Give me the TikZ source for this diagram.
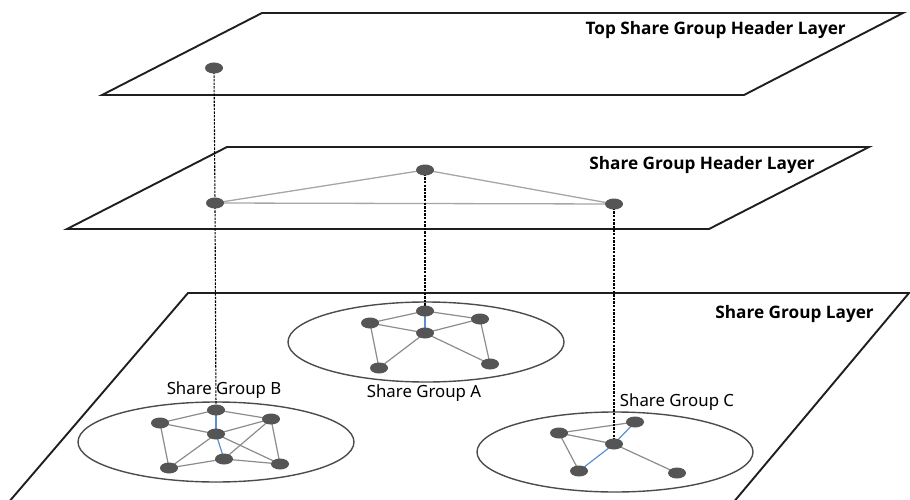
\documentclass[tikz,border=0pt]{standalone}
\usepackage{fontspec}
\setsansfont{Noto Sans}
\newfontfamily\titlefont{Open Sans}
\usetikzlibrary{shapes.geometric}

\definecolor{dotgray}{HTML}{555555}
\definecolor{linkgray}{HTML}{8C8C8C}
\definecolor{headgray}{HTML}{A6A6A6}
\definecolor{linkblue}{HTML}{5B8FD0}

\tikzset{
  layer/.style={draw=black!88, line width=1.9pt, line join=miter},
  grp/.style={ellipse, draw=black!70, line width=1.4pt, inner sep=0pt,
              minimum width=276pt, minimum height=80pt},
  link/.style={draw=linkgray, line width=1.2pt},
  headlink/.style={draw=headgray, line width=1.3pt},
  bluelink/.style={draw=linkblue, line width=1.2pt},
  drop/.style={draw=black, line width=1.1pt, dash pattern=on 2.4pt off 1.2pt},
  title/.style={font=\titlefont\bfseries\fontsize{17.2}{20}\selectfont,
                anchor=east, inner sep=0pt},
  glabel/.style={font=\sffamily\fontsize{16.8}{20}\selectfont, inner sep=0pt},
  dot/.style={inner sep=0pt, minimum size=0pt}
}
\newcommand\dotmark[1]{\fill[dotgray] (#1.center) ellipse [x radius=9pt, y radius=5.5pt];}

\begin{document}
\begin{tikzpicture}[x=1pt,y=-1pt]
\useasboundingbox (0,0) rectangle (910,500);

% the three layer planes
\begin{scope}
  \clip (0,0) rectangle (910,500);
  \draw[layer] (262,13) -- (903,13) -- (744,95) -- (102,95) -- cycle;
  \draw[layer] (227,147) -- (869,147) -- (709,229) -- (67,229) -- cycle;
  \draw[layer] (2,510) -- (188,293) -- (909,293) -- (727,510);
\end{scope}

% layer titles
\node[title] (ttop) at (846,30) {Top Share Group Header Layer};
\node[title] (tmid) at (815,165) {Share Group Header Layer};
\node[title] (tbot) at (874,314) {Share Group Layer};

% share group outlines and labels
\node[grp] (grpA) at (426,342) {};
\node[grp] (grpB) at (216,442) {};
\node[grp] (grpC) at (615,452) {};
\node[glabel] (labA) at (424,393) {Share Group A};
\node[glabel] (labB) at (224,390) {Share Group B};
\node[glabel] (labC) at (677,402) {Share Group C};

% member positions
\node[dot] (t)  at (214,68)  {};
\node[dot] (m1) at (215,203) {};
\node[dot] (m2) at (425,170) {};
\node[dot] (m3) at (614,204) {};

\node[dot] (a1) at (425,311) {};
\node[dot] (a2) at (370,323) {};
\node[dot] (a3) at (480,319) {};
\node[dot] (a4) at (425,333) {};
\node[dot] (a5) at (379,368) {};
\node[dot] (a6) at (490,364) {};

\node[dot] (b1) at (216,410) {};
\node[dot] (b2) at (160,423) {};
\node[dot] (b3) at (271,419) {};
\node[dot] (b4) at (216,434) {};
\node[dot] (b5) at (224,459) {};
\node[dot] (b6) at (169,468) {};
\node[dot] (b7) at (280,464) {};

\node[dot] (c1) at (635,422) {};
\node[dot] (c2) at (559,433) {};
\node[dot] (c3) at (614,444) {};
\node[dot] (c4) at (579,471) {};
\node[dot] (c5) at (677,473) {};

% header layer triangle
\draw[headlink] (m1) -- (m2) -- (m3);
\draw[headlink] (m1) -- (m3);

% group A links
\draw[link] (a1) -- (a2);
\draw[link] (a1) -- (a3);
\draw[link] (a2) -- (a4);
\draw[link] (a3) -- (a4);
\draw[link] (a2) -- (a5);
\draw[link] (a4) -- (a5);
\draw[link] (a4) -- (a6);
\draw[link] (a3) -- (a6);
\draw[bluelink] (a1) -- (a4);

% group B links
\draw[link] (b1) -- (b2);
\draw[link] (b1) -- (b3);
\draw[link] (b2) -- (b4);
\draw[link] (b3) -- (b4);
\draw[link] (b2) -- (b6);
\draw[link] (b4) -- (b6);
\draw[link] (b4) -- (b7);
\draw[link] (b3) -- (b5);
\draw[link] (b3) -- (b7);
\draw[link] (b6) -- (b5);
\draw[link] (b5) -- (b7);
\draw[bluelink] (b1) -- (b4);
\draw[bluelink] (b4) -- (b5);

% group C links
\draw[link] (c2) -- (c1);
\draw[link] (c2) -- (c3);
\draw[link] (c2) -- (c4);
\draw[link] (c3) -- (c5);
\draw[bluelink] (c4) -- (c3);
\draw[bluelink] (c3) -- (c1);

% vertical drops between layers
\draw[drop] (t) -- (m1);
\draw[drop] (m1) -- (b1);
\draw[drop] (m2) -- (a1);
\draw[drop] (m3) -- (c3);

% the member dots, above the links
\foreach \n in {t,m1,m2,m3,a1,a2,a3,a4,a5,a6,b1,b2,b3,b4,b5,b6,b7,c1,c2,c3,c4,c5}
  {\dotmark{\n}}
\end{tikzpicture}
\end{document}
